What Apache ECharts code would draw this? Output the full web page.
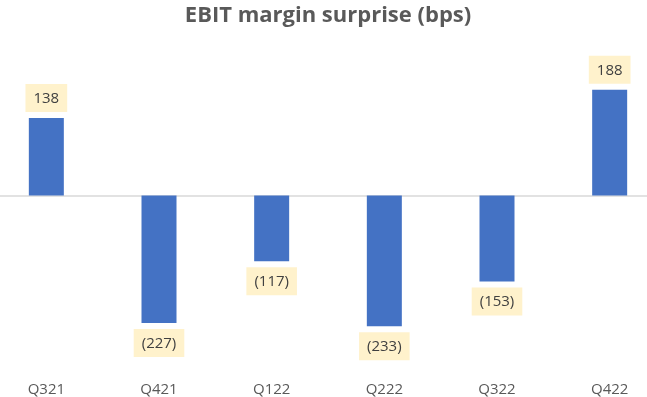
<!DOCTYPE html>
<html>
<head>
<meta charset="utf-8">
<script src="https://cdn.jsdelivr.net/npm/echarts@6/dist/echarts.min.js"></script>
<style>
    html, body { margin: 0; padding: 0; background: #fff; overflow: hidden; width: 647px; height: 397px; }
    /* plot area is a little wider than the window, as in the source chart */
    #chart { width: 676px; height: 397px; margin-left: -10px; }
</style>
</head>
<body>
<div id="chart"></div>
<script>
// quarters and surprise values (bps)
let quarters = ['Q321', 'Q421', 'Q122', 'Q222', 'Q322', 'Q422'];
let surprise = [138, -227, -117, -233, -153, 188];

function fmt_bps(v) {
    if (v < 0) {
        return '(' + Math.abs(v) + ')';
    }
    return v.toString();
}

let bar_data = [];
for (let i = 0; i < surprise.length; i++) {
    bar_data.push({
        value: surprise[i],
        label: { position: surprise[i] < 0 ? 'bottom' : 'top' }
    });
}

let myChart = echarts.init(document.getElementById('chart'));

let option = {
    animation: false,
    title: {
        text: 'EBIT margin surprise (bps)',
        left: 'center',
        top: 0,
        textStyle: {
            fontFamily: 'Open Sans',
            fontWeight: 'bold',
            fontSize: 22,
            color: '#595959'
        }
    },
    grid: {
        left: 0,
        right: 0,
        top: 55,
        bottom: 33,
        containLabel: false
    },
    xAxis: {
        type: 'category',
        data: quarters,
        axisLine: { show: true, lineStyle: { color: '#D9D9D9', width: 1.5 }, onZero: true },
        axisTick: { show: false },
        axisLabel: {
            fontFamily: 'Open Sans',
            fontSize: 15,
            color: '#595959',
            margin: 18,
            interval: 0
        },
        position: 'bottom'
    },
    yAxis: {
        type: 'value',
        min: -300,
        max: 250,
        show: false,
        splitLine: { show: false }
    },
    series: [{
        type: 'bar',
        data: bar_data,
        barWidth: 35,
        itemStyle: { color: '#4472C4' },
        label: {
            show: true,
            distance: 6,
            formatter: function (p) { return fmt_bps(p.value); },
            fontFamily: 'Open Sans',
            fontSize: 15,
            color: '#404040',
            backgroundColor: '#FFF2CC',
            padding: [7, 8, 6, 8]
        }
    }]
};

myChart.setOption(option);
</script>
</body>
</html>
